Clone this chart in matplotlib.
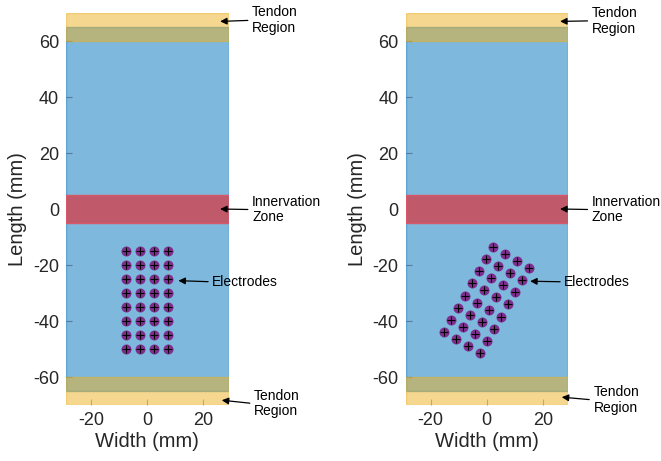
import matplotlib.pyplot as plt
import numpy as np
from matplotlib.patches import Rectangle

plt.rcParams['font.family'] = ['Liberation Sans', 'DejaVu Sans']
plt.rcParams['axes.unicode_minus'] = False

# muscle geometry (mm)
width_lim = (-29, 29)
length_lim = (-70, 70)
muscle_span = (-65, 65)
tendon_spans = [(60, 70), (-70, -60)]
innervation_span = (-5, 5)

# electrode grid (mm) and its rotation in each panel (deg)
electrode_cols = [-7.5, -2.5, 2.5, 7.5]
electrode_rows = [-15, -20, -25, -30, -35, -40, -45, -50]
grid_center = (0, -32.5)
rotations = [0, -30]

x_ticks = [-20, 0, 20]
y_ticks = [-60, -40, -20, 0, 20, 40, 60]

# label text, arrow tip and text anchor (mm) for each panel
labels = ['Tendon\nRegion', 'Innervation\nZone', 'Electrodes', 'Tendon\nRegion']
tips = [
    [(26, 67), (26, 0), (11.1, -25.6), (26.6, -68.3)],
    [(26.2, 67), (26.2, 0), (15.5, -25.8), (26.8, -67.2)],
]
text_pos = [
    [(37.4, 67.4), (37.4, -0.2), (23.2, -26.0), (38.1, -69.5)],
    [(37.5, 67.2), (37.5, -0.2), (27.7, -26.0), (38.1, -68.2)],
]

blue = (0, 0.447, 0.741)
yellow = (0.929, 0.694, 0.125)
red = '#C05A6B'
purple = (0.494, 0.184, 0.556)


def electrode_positions(angle):
    gx, gy = np.meshgrid(electrode_cols, electrode_rows)
    dx = gx.ravel() - grid_center[0]
    dy = gy.ravel() - grid_center[1]
    t = np.deg2rad(angle)
    x = grid_center[0] + dx * np.cos(t) - dy * np.sin(t)
    y = grid_center[1] + dx * np.sin(t) + dy * np.cos(t)
    return x, y


def draw_panel(ax, angle, tip, tpos):
    w = width_lim[1] - width_lim[0]
    ax.add_patch(Rectangle((width_lim[0], muscle_span[0]), w, muscle_span[1] - muscle_span[0],
                           facecolor=blue, alpha=0.5, edgecolor=blue, lw=1, zorder=1))
    for lo, hi in tendon_spans:
        ax.add_patch(Rectangle((width_lim[0], lo), w, hi - lo,
                               facecolor=yellow, alpha=0.5, edgecolor=yellow, lw=1, zorder=2))
    ax.add_patch(Rectangle((width_lim[0], innervation_span[0]), w,
                           innervation_span[1] - innervation_span[0],
                           facecolor=red, edgecolor='#D8586A', lw=1, zorder=2))

    ex, ey = electrode_positions(angle)
    ax.plot(ex, ey, linestyle='none', marker='o', ms=6.2, mfc=purple, mec=purple, zorder=3)
    ax.plot(ex, ey, linestyle='none', marker='+', ms=5.2, mew=0.8, color='k', zorder=4)

    for lab, (tx, ty), (px, py) in zip(labels, tip, tpos):
        ax.annotate(lab, xy=(tx, ty), xytext=(px, py), ha='left', va='center',
                    fontsize=10, linespacing=1.15, annotation_clip=False,
                    arrowprops=dict(arrowstyle='-|>', color='k', lw=0.9,
                                    mutation_scale=10, shrinkA=1, shrinkB=0,
                                    relpos=(0, 0.5)))

    ax.set_xlim(width_lim)
    ax.set_ylim(length_lim)
    ax.set_xticks(x_ticks)
    ax.set_yticks(y_ticks)
    for s in ax.spines.values():
        s.set_visible(False)
    ax.tick_params(direction='in', length=4, width=0.8, color=(0.15, 0.2, 0.3, 0.45),
                   labelsize=13, labelcolor='#262626', pad=5)
    ax.set_xlabel('Width (mm)', fontsize=14.5, color='#262626', labelpad=2)
    ax.set_ylabel('Length (mm)', fontsize=14.5, color='#262626', labelpad=4)


fig = plt.figure(figsize=(6.61, 4.61), dpi=100)
W, H = 661, 461
ax1 = fig.add_axes([66.1 / W, 56 / H, 162.4 / W, 392 / H])
ax2 = fig.add_axes([405.5 / W, 56 / H, 162.4 / W, 392 / H])

draw_panel(ax1, rotations[0], tips[0], text_pos[0])
draw_panel(ax2, rotations[1], tips[1], text_pos[1])

fig.savefig('out.png', dpi=100)
